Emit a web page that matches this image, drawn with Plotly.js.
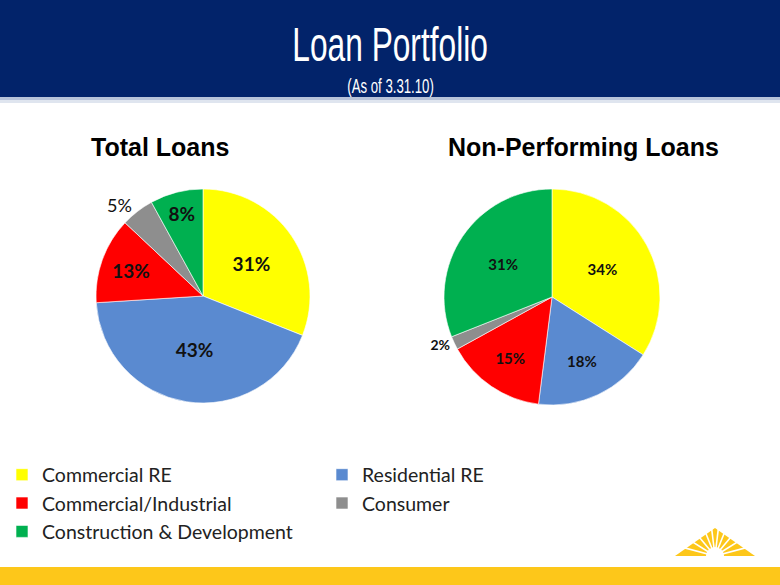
<!DOCTYPE html>
<html>
<head>
<meta charset="utf-8">
<script src="https://cdn.plot.ly/plotly-3.0.1.min.js"></script>
<style>html,body{margin:0;padding:0;background:#fff;}#chart{width:780px;height:585px;}</style>
</head>
<body>
<div id="chart"></div>
<script>
// ---- data ----
const categories = ["Commercial RE", "Residential RE", "Commercial/Industrial", "Consumer", "Construction & Development"];
const totalLoans = [31, 43, 13, 5, 8];
const nonPerformingLoans = [34, 18, 15, 2, 31];
const sliceColors = ["#FFFF00", "#5A8AD0", "#FF0000", "#8E8E8E", "#00B050"];
const chartTitle = "Loan Portfolio";
const chartSubtitle = "(As of 3.31.10)";
const pieTitles = ["Total Loans", "Non-Performing Loans"];

// ---- helpers for pixel placement ----
const W = 780, H = 585;
const px = x => x / W;
const py = y => 1 - y / H;

const pie1 = {
  type: "pie", labels: categories, values: totalLoans, sort: false,
  direction: "clockwise", rotation: 0,
  marker: {colors: sliceColors, line: {color: "rgba(255,255,255,0.6)", width: 1}},
  texttemplate: "%{value}%",
  textposition: ["inside", "inside", "inside", "outside", "inside"],
  insidetextorientation: "horizontal",
  insidetextfont: {family: "Lato", size: 19, color: "#111", weight: "bold"},
  outsidetextfont: {family: "Lato", size: 18, color: "#111", weight: "normal"},
  domain: {x: [px(96), px(310)], y: [py(403), py(189)]},
  hoverinfo: "label+percent", showlegend: true
};
const pie2 = {
  type: "pie", labels: categories, values: nonPerformingLoans, sort: false,
  direction: "clockwise", rotation: 0,
  marker: {colors: sliceColors, line: {color: "rgba(255,255,255,0.6)", width: 1}},
  texttemplate: "%{value}%",
  textposition: ["inside", "inside", "inside", "outside", "inside"],
  insidetextorientation: "horizontal",
  insidetextfont: {family: "Lato", size: 15, color: "#111", weight: "bold"},
  outsidetextfont: {family: "Lato", size: 14, color: "#111", weight: "bold"},
  domain: {x: [px(444), px(660)], y: [py(405), py(189)]},
  hoverinfo: "label+percent", showlegend: true
};

// logo sunburst
const logoShapes = [];
const cx = 715, cy = 556;
logoShapes.push({type: "path", xref: "paper", yref: "paper",
  path: `M ${px(675)} ${py(556)} L ${px(715)} ${py(528)} L ${px(755)} ${py(556)} Z`,
  fillcolor: "#FDC71A", line: {width: 0}});
const rayAngles = [-75, -58, -40, -22, -7, 7, 22, 40, 58, 75];
rayAngles.forEach(a => {
  const r = a * Math.PI / 180;
  logoShapes.push({type: "line", xref: "paper", yref: "paper",
    x0: px(cx), y0: py(cy), x1: px(cx + 45 * Math.sin(r)), y1: py(cy - 45 * Math.cos(r)),
    line: {color: "#fff", width: 1.6}});
});
logoShapes.push({type: "circle", xref: "paper", yref: "paper",
  x0: px(cx-9), x1: px(cx+9), y0: py(cy+9), y1: py(cy-9), fillcolor: "#fff", line: {width: 0}});
logoShapes.push({type: "rect", xref: "paper", yref: "paper",
  x0: px(660), x1: px(770), y0: py(566), y1: py(556.5), fillcolor: "#fff", line: {width: 0}});

const layout = {
  width: W, height: H,
  margin: {l: 0, r: 0, t: 0, b: 0},
  paper_bgcolor: "#ffffff", plot_bgcolor: "#ffffff",
  font: {family: "Lato", color: "#222"},
  showlegend: true,
  legend: {
    orientation: "h", x: px(2), xanchor: "left", y: py(455.5), yanchor: "top",
    entrywidth: 275, entrywidthmode: "pixels",
    font: {family: "Lato", size: 19.5, color: "#222"},
    bgcolor: "rgba(0,0,0,0)", traceorder: "normal", itemclick: false
  },
  shapes: [
    {type: "rect", xref: "paper", yref: "paper", x0: 0, x1: 1, y0: py(97), y1: 1,
     fillcolor: "#02236A", line: {width: 0}, layer: "below"},
    {type: "rect", xref: "paper", yref: "paper", x0: 0, x1: 1, y0: py(100), y1: py(97),
     fillcolor: "#b7c3d9", line: {width: 0}, layer: "below"},
    {type: "rect", xref: "paper", yref: "paper", x0: 0, x1: 1, y0: py(103), y1: py(100),
     fillcolor: "#dfe5ef", line: {width: 0}, layer: "below"},
    {type: "rect", xref: "paper", yref: "paper", x0: 0, x1: 1, y0: 0, y1: py(567),
     fillcolor: "#FDC71A", line: {width: 0}, layer: "below"},
    ...logoShapes
  ],
  annotations: [
    {text: chartTitle, xref: "paper", yref: "paper", x: 0.5, y: py(45), xanchor: "center", yanchor: "middle",
     showarrow: false, font: {family: "Liberation Sans", size: 48, color: "#ffffff"}},
    {text: chartSubtitle, xref: "paper", yref: "paper", x: 0.5, y: py(86), xanchor: "center", yanchor: "middle",
     showarrow: false, font: {family: "Liberation Sans", size: 20, color: "#ffffff"}},
    {text: "<b>" + pieTitles[0] + "</b>", xref: "paper", yref: "paper", x: px(160), y: py(147), xanchor: "center", yanchor: "middle",
     showarrow: false, font: {family: "Liberation Sans", size: 25, color: "#000"}},
    {text: "<b>" + pieTitles[1] + "</b>", xref: "paper", yref: "paper", x: px(583), y: py(147), xanchor: "center", yanchor: "middle",
     showarrow: false, font: {family: "Liberation Sans", size: 25, color: "#000"}}
  ]
};

Plotly.newPlot("chart", [pie1, pie2], layout, {displayModeBar: false, staticPlot: true}).then(gd => {
  // condense the header text horizontally (the original uses a narrow typeface)
  const texts = gd.querySelectorAll(".annotation-text");
  [0, 1].forEach(i => {
    const t = texts[i];
    if (!t) return;
    t.style.transformBox = "fill-box";
    t.style.transformOrigin = "center";
    t.style.transform = "scaleX(0.66)";
  });
});
</script>
</body>
</html>
